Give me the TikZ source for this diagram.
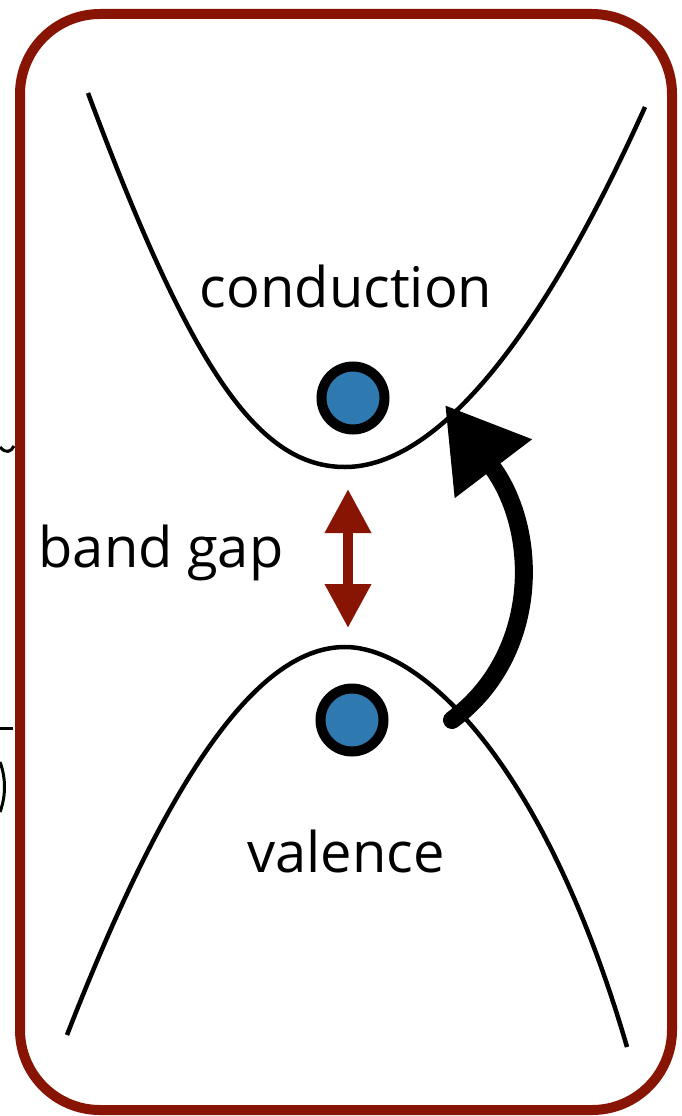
\documentclass[tikz,border=0pt]{standalone}
\usepackage{fontspec}
\setmainfont{Open Sans}
\usetikzlibrary{positioning, arrows.meta}
\definecolor{boxred}{RGB}{136,20,4}
\definecolor{dotblue}{RGB}{46,122,176}
\tikzset{>=latex}

\begin{document}
\begin{tikzpicture}[x=1pt, y=-1pt,
		band/.style={line width=4.5pt},
		electron/.style={circle, draw=black, fill=dotblue, line width=10pt, minimum size=63pt, inner sep=0pt},
		bandlbl/.style={font=\fontsize{56}{60}\selectfont, anchor=base, inner sep=0pt}]
		\useasboundingbox (0,0) rectangle (681,1116);
		% Neighbour (cut off)
		\draw[line width=3pt] (0,447) .. controls (6,454) and (11,452) .. (14,446);
		\draw[line width=3pt] (0,728) -- (13,728);
		\draw[line width=3pt] (0,762) .. controls (6,778) and (6,796) .. (0,812);
		% Frame
		\draw[boxred, line width=10pt, rounded corners=80pt] (20,14) rectangle (672,1110);
		% Conduction band
		\draw[band] (88,93) .. controls (193,375) and (260,467) .. (345,467)
			.. controls (420,467) and (522,380) .. (645,107);
		% Valence band
		\draw[band] (67,1035) .. controls (176,755) and (265,647) .. (345,647)
			.. controls (420,647) and (543,759) .. (627,1047);
		% Electrons
		\node[electron] (econd) at (353,398) {};
		\node[electron] (eval) at (352,720) {};
		% Labels
		\node[bandlbl] (lcond) at (346,307) {conduction};
		\node[bandlbl] (lgap) at (161,567) {band gap};
		\node[bandlbl] (lval) at (346,872) {valence};
		% Gap
		\coordinate (gtop) at (348,489);
		\coordinate (gbot) at (348,628);
		\draw[boxred, line width=10pt, {Triangle[length=44pt,width=44pt]}-{Triangle[length=44pt,width=44pt]}] (gtop) -- (gbot);
		% Excitation
		\coordinate (jfrom) at (452,720);
		\coordinate (jto) at (445,405);
		\draw[line width=18pt, line cap=round, -{Triangle[length=80pt,width=92pt]}] (jfrom) .. controls (540,655) and (540,530) .. (jto);
	\end{tikzpicture}
\end{document}
